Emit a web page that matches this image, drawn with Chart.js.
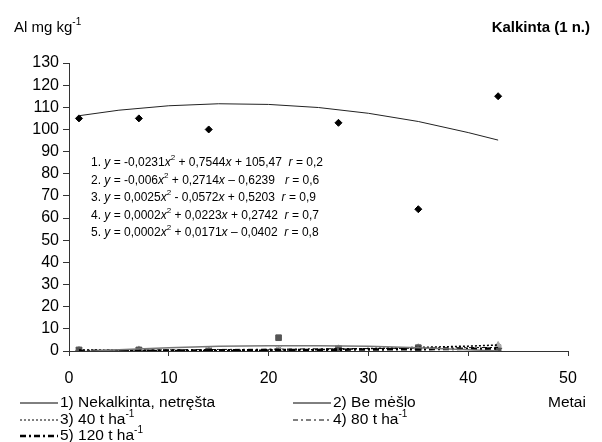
<!DOCTYPE html>
<html>
<head>
<meta charset="utf-8">
<script src="https://cdn.jsdelivr.net/npm/chart.js@4"></script>
<style>
  body { margin: 0; background: #fff; }
  canvas { display: block; }
</style>
</head>
<body>
<canvas id="alChart" width="602" height="442"></canvas>
<script>
// Sampling years (x) and Al values
const years = [1, 7, 14, 21, 27, 35, 43];
const nekalkinta = [105, 105, 100, null, 103, 64, 115];
const beMeslo = [0.5, 0.5, 0, 6, 1, 1.5, 0];
const t40 = [0.3, 0.5, 0, 0.5, 1, 1.5, 2.5];
const t80 = [0.3, 0.5, 0.3, 0.8, 1.2, 1.3, 1.8];
const t120 = [0, 0.2, 0, 0, 0.8, 1, 1.2];

// Trend curves at these years
const trendYears = [1, 5, 10, 15, 20, 25, 30, 35, 40, 43];
const trendNekalkinta = [106.2, 108.7, 110.7, 111.6, 111.3, 109.9, 107.3, 103.6, 98.6, 95.2];
const trendBeMeslo = [-0.4, 0.6, 1.5, 2.1, 2.4, 2.4, 2.1, 1.5, 0.6, 0.0];
const trend40 = [0.5, 0.3, 0.2, 0.2, 0.4, 0.6, 1.1, 1.6, 2.2, 2.7];
const trend80 = [0.3, 0.4, 0.5, 0.7, 0.8, 1.0, 1.1, 1.3, 1.5, 1.6];
const trend120 = [0.0, 0.0, 0.2, 0.3, 0.4, 0.5, 0.7, 0.8, 1.0, 1.1];

const xTicks = [0, 10, 20, 30, 40, 50];
const yTicks = [0, 10, 20, 30, 40, 50, 60, 70, 80, 90, 100, 110, 120, 130];

const equations = [
  '1. {y} = -0,0231{x}^2 + 0,7544{x} + 105,47  {r} = 0,2',
  '2. {y} = -0,006{x}^2 + 0,2714{x} \u2013 0,6239   {r} = 0,6',
  '3. {y} = 0,0025{x}^2 - 0,0572{x} + 0,5203  {r} = 0,9',
  '4. {y} = 0,0002{x}^2 + 0,0223{x} + 0,2742  {r} = 0,7',
  '5. {y} = 0,0002{x}^2 + 0,0171{x} \u2013 0,0402  {r} = 0,8'
];

const legendItems = [
  { text: '1) Nekalkinta, netr\u0119\u0161ta', dash: [], width: 1, col: 0, row: 0 },
  { text: '2) Be m\u0117\u0161lo', dash: [], width: 1, col: 1, row: 0 },
  { text: '3) 40 t ha^-1', dash: [2, 2], width: 1, col: 0, row: 1 },
  { text: '4) 80 t ha^-1', dash: [5, 3, 2, 3], width: 1, col: 1, row: 1 },
  { text: '5) 120 t ha^-1', dash: [6, 3, 2, 3], width: 2.5, col: 0, row: 2 }
];

const FONT = '"Liberation Sans", Arial, sans-serif';

const toPoints = (xs, ys) => xs.map((x, i) => ({ x: x, y: ys[i] }));

// draws text with {italic} parts and ^superscripts
const drawRich = (ctx, str, x, y, size) => {
  const segs = [];
  let i = 0;
  while (i < str.length) {
    const ch = str[i];
    if (ch === '{') {
      const end = str.indexOf('}', i);
      segs.push({ t: str.slice(i + 1, end), s: 'i' });
      i = end + 1;
    } else if (ch === '^') {
      let j = i + 1;
      while (j < str.length && str[j] !== ' ') j++;
      segs.push({ t: str.slice(i + 1, j), s: 'sup' });
      i = j;
    } else {
      let j = i;
      while (j < str.length && str[j] !== '{' && str[j] !== '^') j++;
      segs.push({ t: str.slice(i, j), s: 'n' });
      i = j;
    }
  }
  ctx.textBaseline = 'middle';
  ctx.textAlign = 'left';
  let cx = x;
  segs.forEach(seg => {
    let dy = 0;
    if (seg.s === 'i') ctx.font = `italic ${size}px ${FONT}`;
    else if (seg.s === 'sup') { ctx.font = `${Math.round(size * 0.65)}px ${FONT}`; dy = -size * 0.4; }
    else ctx.font = `${size}px ${FONT}`;
    ctx.fillText(seg.t, cx, y + dy);
    cx += ctx.measureText(seg.t).width;
  });
};

const textPlugin = {
  id: 'texts',
  afterDraw(chart) {
    const ctx = chart.ctx;
    ctx.save();
    ctx.fillStyle = '#000';

    drawRich(ctx, 'Al mg kg^-1', 14, 28, 15);

    ctx.font = `bold 15px ${FONT}`;
    ctx.textAlign = 'right';
    ctx.textBaseline = 'middle';
    ctx.fillText('Kalkinta (1 n.)', 590, 28);

    equations.forEach((eq, i) => drawRich(ctx, eq, 91, 163 + i * 17.5, 12));

    // legend
    const colX = [20, 293];
    const rowY = [403, 420, 436];
    legendItems.forEach(item => {
      const lx = colX[item.col];
      const ly = rowY[item.row];
      ctx.beginPath();
      ctx.setLineDash(item.dash);
      ctx.lineWidth = item.width;
      ctx.strokeStyle = '#000';
      ctx.moveTo(lx, ly);
      ctx.lineTo(lx + 38, ly);
      ctx.stroke();
      ctx.setLineDash([]);
      drawRich(ctx, item.text, lx + 40, ly, 15.5);
    });

    ctx.font = `15.5px ${FONT}`;
    ctx.textAlign = 'left';
    ctx.textBaseline = 'middle';
    ctx.fillText('Metai', 548, 403);
    ctx.restore();
  }
};

const config = {
  type: 'scatter',
  data: {
    datasets: [
      { label: 't1', data: toPoints(trendYears, trendNekalkinta), showLine: true, borderColor: '#222', borderWidth: 1, pointRadius: 0, tension: 0 },
      { label: 't2', data: toPoints(trendYears, trendBeMeslo), showLine: true, borderColor: '#777', borderWidth: 1.5, pointRadius: 0, tension: 0 },
      { label: 't3', data: toPoints(trendYears, trend40), showLine: true, borderColor: '#000', borderWidth: 1.5, borderDash: [2, 2], pointRadius: 0, tension: 0 },
      { label: 't4', data: toPoints(trendYears, trend80), showLine: true, borderColor: '#000', borderWidth: 1, borderDash: [5, 3, 2, 3], pointRadius: 0, tension: 0 },
      { label: 't5', data: toPoints(trendYears, trend120), showLine: true, borderColor: '#000', borderWidth: 2.5, borderDash: [6, 3, 2, 3], pointRadius: 0, tension: 0 },
      { label: '1', data: toPoints(years, nekalkinta), pointStyle: 'rectRot', pointRadius: 3.5, backgroundColor: '#000', borderColor: '#000' },
      { label: '2', data: toPoints(years, beMeslo), pointStyle: 'rect', pointRadius: 4, backgroundColor: '#555', borderColor: '#555' },
      { label: '3', data: toPoints(years, t40), pointStyle: 'triangle', pointRadius: 4, backgroundColor: '#aaa', borderColor: '#aaa' },
      { label: '4', data: toPoints(years, t80), pointStyle: 'crossRot', pointRadius: 4, backgroundColor: '#777', borderColor: '#777' },
      { label: '5', data: toPoints(years, t120), pointStyle: 'star', pointRadius: 4, backgroundColor: '#333', borderColor: '#333' }
    ]
  },
  options: {
    responsive: false,
    animation: false,
    layout: { padding: { left: 0, right: 34, top: 63, bottom: 0 } },
    plugins: {
      legend: { display: false },
      tooltip: { enabled: false }
    },
    scales: {
      x: {
        type: 'linear',
        min: 0,
        max: 50,
        afterBuildTicks: (scale) => { scale.ticks = xTicks.map(v => ({ value: v })); },
        afterFit: (scale) => { scale.height = 91; },
        grid: { drawOnChartArea: false, tickLength: 5, color: '#333' },
        border: { color: '#333', width: 1 },
        ticks: { color: '#000', font: { family: FONT, size: 16 }, padding: 13, maxRotation: 0, autoSkip: false }
      },
      y: {
        min: 0,
        max: 130,
        afterBuildTicks: (scale) => { scale.ticks = yTicks.map(v => ({ value: v })); },
        afterFit: (scale) => { scale.width = 69; },
        grid: { drawOnChartArea: false, tickLength: 6, color: '#333' },
        border: { color: '#333', width: 1 },
        ticks: { color: '#000', font: { family: FONT, size: 16 }, padding: 4, autoSkip: false }
      }
    }
  },
  plugins: [textPlugin]
};

const alChart = new Chart(document.getElementById('alChart'), config);
</script>
</body>
</html>
